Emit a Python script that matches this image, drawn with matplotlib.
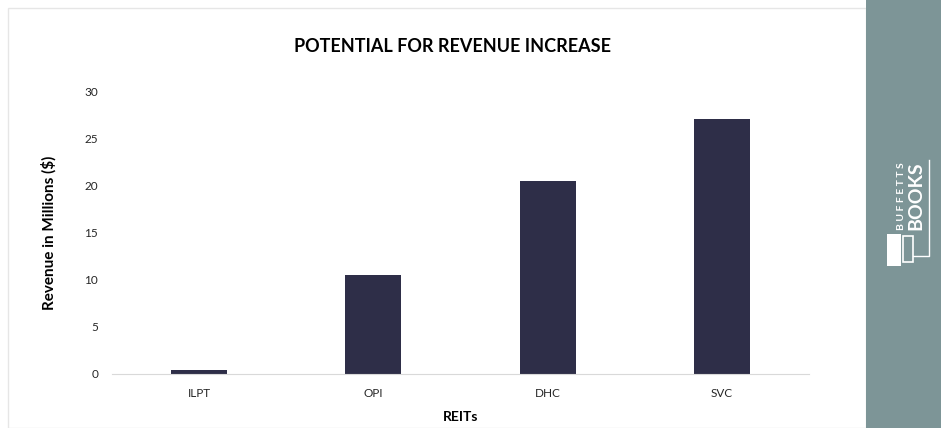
import matplotlib.pyplot as plt
from matplotlib.patches import Rectangle
from matplotlib.lines import Line2D

reits = ['ILPT', 'OPI', 'DHC', 'SVC']
revenue = [0.4, 10.5, 20.5, 27.0]
yticks = [0, 5, 10, 15, 20, 25, 30]

plt.rcParams['font.family'] = ['Lato', 'DejaVu Sans']

fig = plt.figure(figsize=(9.41, 4.28), dpi=100)
W, H = 941, 428

def fx(x):
    return x / W

def fy(y):
    return 1 - y / H

# light frame around chart area
fig.patches.append(Rectangle((fx(8), 0), 858 / W, fy(8), transform=fig.transFigure,
                             fill=False, edgecolor='#e6e6e6', lw=1))
# side panel with logo
fig.patches.append(Rectangle((fx(866), 0), 75 / W, 1, transform=fig.transFigure,
                             facecolor='#7d9597', edgecolor='none'))
fig.text(fx(901), fy(196), 'B U F F E T T S', rotation=90, color='white', fontsize=7.5,
         fontweight='bold', ha='center', va='center')
fig.text(fx(916), fy(196), 'BOOKS', rotation=90, color='white', fontsize=14,
         fontweight='bold', ha='center', va='center')
fig.patches.append(Rectangle((fx(887), fy(266)), 14 / W, 32 / H, transform=fig.transFigure,
                             facecolor='white', edgecolor='none'))
fig.patches.append(Rectangle((fx(903), fy(262)), 10 / W, 26 / H, transform=fig.transFigure,
                             fill=False, edgecolor='white', lw=1.2))
fig.lines.append(Line2D([fx(913), fx(929), fx(929)], [fy(256), fy(256), fy(160)],
                        transform=fig.transFigure, color='white', lw=1))

ax = fig.add_axes([fx(112), fy(374), 697 / W, 283 / H])
ax.bar(reits, revenue, width=0.32, color='#2e2e48')
ax.set_ylim(0, 30)
ax.set_xlim(-0.5, 3.5)
ax.set_yticks(yticks)
for s in ['top', 'right', 'left']:
    ax.spines[s].set_visible(False)
ax.spines['bottom'].set_color('#d9d9d9')
ax.tick_params(axis='both', length=0, labelsize=8.5, colors='#262626')
ax.tick_params(axis='x', pad=10)
ax.tick_params(axis='y', pad=10)
ax.set_xlabel('REITs', fontsize=10, fontweight='bold', labelpad=9)
ax.set_ylabel('Revenue in Millions ($)', fontsize=11, fontweight='bold', labelpad=20)
fig.text(fx(452), fy(46), 'POTENTIAL FOR REVENUE INCREASE', fontsize=13,
         fontweight='bold', ha='center', va='center')

fig.savefig('out.png', dpi=100)
